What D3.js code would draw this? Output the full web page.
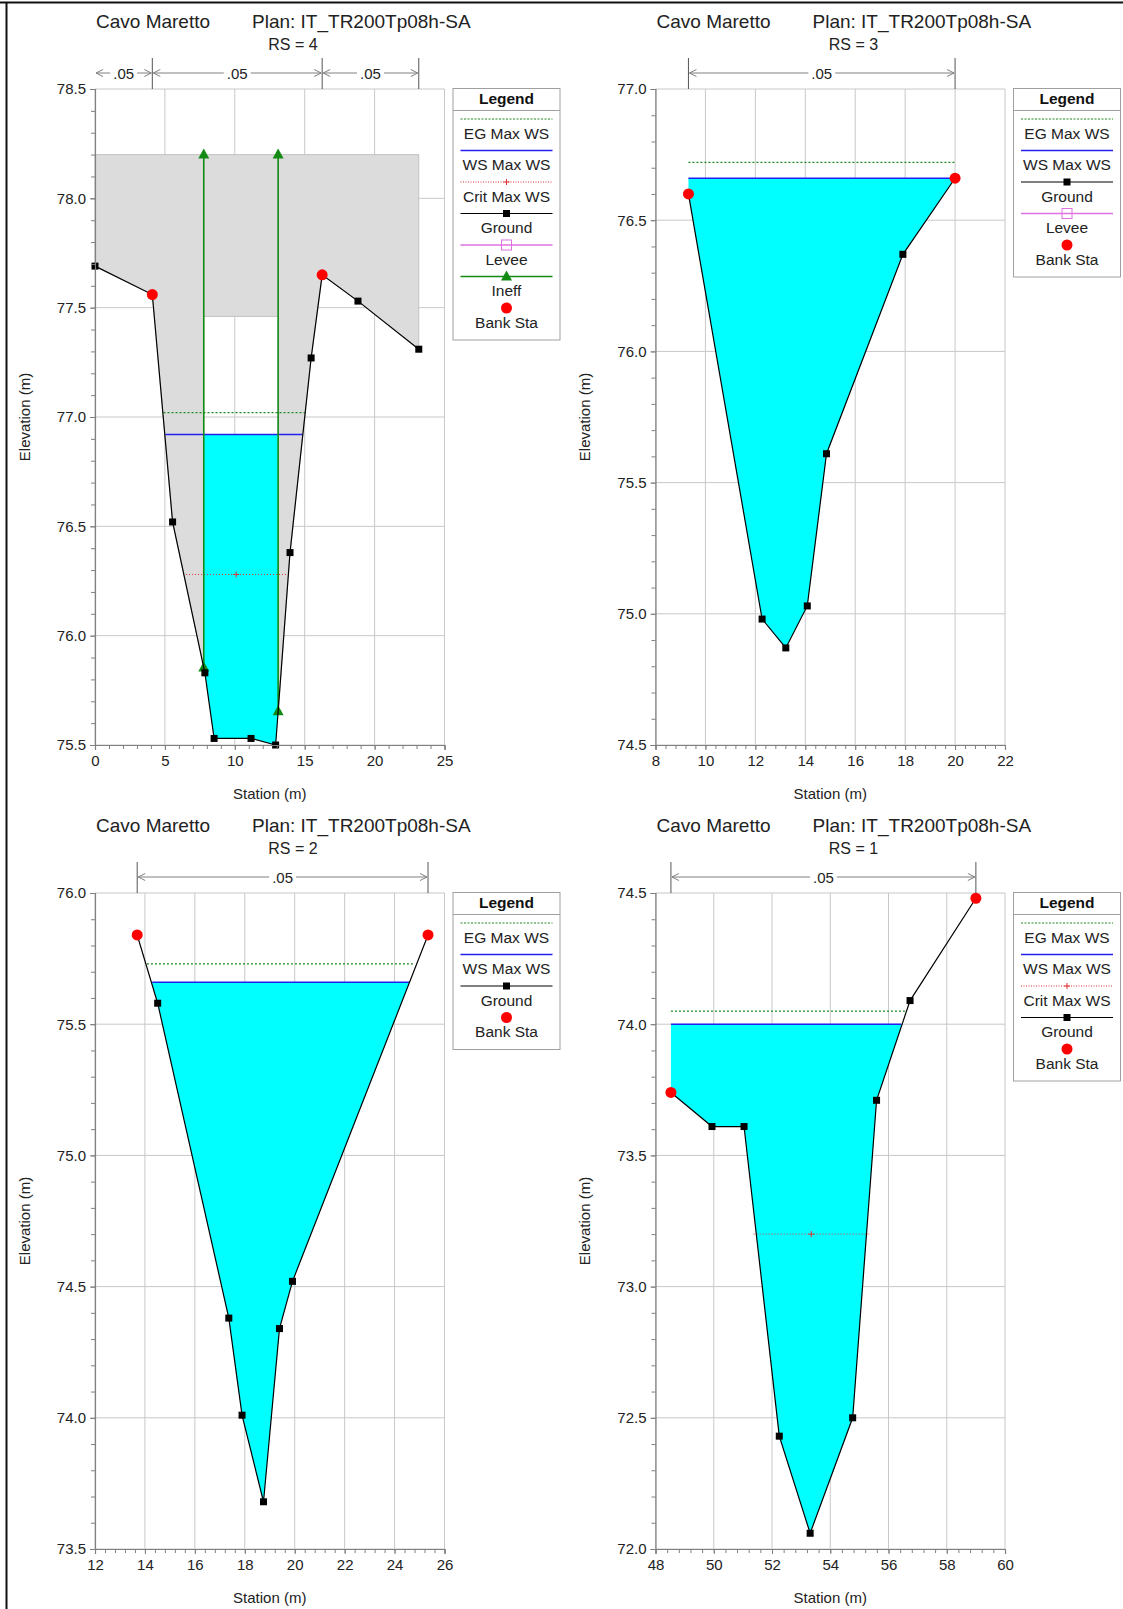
<!DOCTYPE html>
<html>
<head>
<meta charset="utf-8">
<script src="https://cdn.jsdelivr.net/npm/d3@7"></script>
<style>
  body { margin: 0; background: #fff; }
  svg { display: block; font-family: Arial, "Liberation Sans", sans-serif; }
</style>
</head>
<body>
<div id="chart"></div>
<script>
// Titles
const riverName = "Cavo Maretto";
const planName = "Plan: IT_TR200Tp08h-SA";
const sectionNames = ["RS = 4", "RS = 3", "RS = 2", "RS = 1"];

// Ground profiles (station m, elevation m)
const rs4Sta = [0, 4.1, 5.55, 7.86, 8.52, 11.16, 12.92, 13.95, 15.46, 16.25, 18.81, 23.16];
const rs4Elev = [77.69, 77.56, 76.52, 75.83, 75.53, 75.53, 75.50, 76.38, 77.27, 77.65, 77.53, 77.31];
const rs3Sta = [9.32, 12.27, 13.22, 14.08, 14.85, 17.91, 20.0];
const rs3Elev = [76.60, 74.98, 74.87, 75.03, 75.61, 76.37, 76.66];
const rs2Sta = [13.69, 14.51, 17.36, 17.89, 18.75, 19.39, 19.91, 25.34];
const rs2Elev = [75.84, 75.58, 74.38, 74.01, 73.68, 74.34, 74.52, 75.84];
const rs1Sta = [48.53, 49.94, 51.04, 52.25, 53.31, 54.77, 55.59, 56.74, 59.0];
const rs1Elev = [73.74, 73.61, 73.61, 72.43, 72.06, 72.50, 73.71, 74.09, 74.48];

// Bank stations
const bankSta = [[4.1, 16.25], [9.32, 20.0], [13.69, 25.34], [48.53, 59.0]];

// Water surface, energy grade, critical (RS 4, 3, 2, 1)
const wsElev = [76.92, 76.66, 75.66, 74.00];
const wsFrom = [5.04, 9.32, 14.29, 48.53];
const wsTo = [14.84, 20.0, 24.59, 56.44];
const egElev = [77.02, 76.72, 75.73, 74.05];
const egFrom = [4.9, 9.32, 14.08, 48.53];
const egTo = [15.02, 20.0, 24.81, 56.6];
const critElev = [76.28, null, null, 73.20];
const critFrom = [6.3, null, null, 51.37];
const critTo = [13.9, null, null, 55.33];
const waterFrom = [7.78, 9.32, 14.29, 48.53];
const waterTo = [13.10, 20.0, 24.59, 56.44];

// Ineffective flow areas at RS 4
const ineffSta = [7.78, 13.10];
const ineffTop = 78.2;
const blockedElev = 77.46;

// Manning's n
const nBreaks = [[0, 4.1, 16.25, 23.16], [9.32, 20.0], [13.69, 25.34], [48.53, 59.0]];
const nValues = [[".05", ".05", ".05"], [".05"], [".05"], [".05"]];

// Axes
const xDomains = [[0, 25], [8, 22], [12, 26], [48, 60]];
const yDomains = [[75.5, 78.5], [74.5, 77.0], [73.5, 76.0], [72.0, 74.5]];
const xSteps = [5, 2, 2, 2];
const ySteps = [0.5, 0.5, 0.5, 0.5];

// Legends
const legendItems = [
  ["EG Max WS", "WS Max WS", "Crit Max WS", "Ground", "Levee", "Ineff", "Bank Sta"],
  ["EG Max WS", "WS Max WS", "Ground", "Levee", "Bank Sta"],
  ["EG Max WS", "WS Max WS", "Ground", "Bank Sta"],
  ["EG Max WS", "WS Max WS", "Crit Max WS", "Ground", "Bank Sta"]
];

const stations = [rs4Sta, rs3Sta, rs2Sta, rs1Sta];
const elevations = [rs4Elev, rs3Elev, rs2Elev, rs1Elev];

// Layout
const W = 1123, H = 1609;
const plotW = 349.5, plotH = 656;
const panelPos = [
  { left: 95, top: 89 }, { left: 655.5, top: 89 },
  { left: 95, top: 893 }, { left: 655.5, top: 893 }
];

const colors = {
  grid: "#c8c8c8", axis: "#808080", text: "#222",
  water: "#00ffff", ws: "#2020f0", eg: "#1a8a1a", crit: "#e03030",
  ground: "#000", bank: "#ff0000", levee: "#e070e0", ineff: "#138a13",
  ineffFill: "#dcdcdc", nLine: "#808080"
};

const svg = d3.select("#chart").append("svg")
  .attr("width", W)
  .attr("height", H);

svg.append("rect").attr("width", W).attr("height", H).attr("fill", "#fff");

// outer frame
svg.append("line").attr("x1", 0).attr("x2", W).attr("y1", 2.5).attr("y2", 2.5)
  .attr("stroke", "#111").attr("stroke-width", 2);
svg.append("line").attr("x1", 6.5).attr("x2", 6.5).attr("y1", 2).attr("y2", H)
  .attr("stroke", "#111").attr("stroke-width", 2);

function groundAt(pts, s) {
  for (let k = 0; k < pts.length - 1; k++) {
    const [s0, e0] = pts[k], [s1, e1] = pts[k + 1];
    if (s >= s0 && s <= s1) return e0 + (e1 - e0) * (s - s0) / (s1 - s0);
  }
  return s < pts[0][0] ? pts[0][1] : pts[pts.length - 1][1];
}

function triangle(g, cx, cy, color) {
  g.append("path")
    .attr("d", `M${cx},${cy - 6}L${cx + 5.5},${cy + 4}L${cx - 5.5},${cy + 4}Z`)
    .attr("fill", color);
}

function plus(g, cx, cy, color) {
  g.append("path")
    .attr("d", `M${cx - 3},${cy}H${cx + 3}M${cx},${cy - 3}V${cy + 3}`)
    .attr("stroke", color).attr("stroke-width", 1);
}

function drawPanel(i) {
  const p = panelPos[i];
  const g = svg.append("g").attr("transform", `translate(${p.left},${p.top})`);
  const x = d3.scaleLinear().domain(xDomains[i]).range([0, plotW]);
  const y = d3.scaleLinear().domain(yDomains[i]).range([plotH, 0]);
  const ground = stations[i].map((s, k) => [s, elevations[i][k]]);
  const line = d3.line().x(d => x(d[0])).y(d => y(d[1]));

  const [x0, x1] = xDomains[i], [y0, y1] = yDomains[i];
  const xMajor = d3.range(x0, x1 + 1e-9, xSteps[i]);
  const xMinor = d3.range(x0, x1 + 1e-9, xSteps[i] / 5);
  const yMajor = d3.range(y0, y1 + 1e-9, ySteps[i]);
  const yMinor = d3.range(y0, y1 + 1e-9, ySteps[i] / 5);

  // Titles
  g.append("text").attr("x", 1).attr("y", -68).attr("dominant-baseline", "central")
    .attr("font-size", 19).attr("fill", colors.text).text(riverName);
  g.append("text").attr("x", 157).attr("y", -68).attr("dominant-baseline", "central")
    .attr("font-size", 19).attr("fill", colors.text).text(planName);
  g.append("text").attr("x", 198).attr("y", -45).attr("dominant-baseline", "central")
    .attr("text-anchor", "middle").attr("font-size", 16).attr("fill", colors.text)
    .text(sectionNames[i]);

  // Grid
  g.append("g").selectAll("line").data(xMajor).join("line")
    .attr("x1", d => x(d)).attr("x2", d => x(d)).attr("y1", 0).attr("y2", plotH)
    .attr("stroke", colors.grid);
  g.append("g").selectAll("line").data(yMajor).join("line")
    .attr("x1", 0).attr("x2", plotW).attr("y1", d => y(d)).attr("y2", d => y(d))
    .attr("stroke", colors.grid);

  // Ineffective areas (RS 4 only)
  if (i === 0) {
    const first = ground[0][0], last = ground[ground.length - 1][0];
    const right = ground.filter(d => d[0] > ineffSta[1]).reverse();
    const left = ground.filter(d => d[0] < ineffSta[0]).reverse();
    const greyPts = [[first, ineffTop], [last, ineffTop], ...right,
      [ineffSta[1], groundAt(ground, ineffSta[1])], [ineffSta[1], blockedElev],
      [ineffSta[0], blockedElev], [ineffSta[0], groundAt(ground, ineffSta[0])], ...left];
    g.append("path").attr("d", line(greyPts) + "Z")
      .attr("fill", colors.ineffFill).attr("stroke", "#b8b8b8").attr("stroke-width", 0.8);
  }

  // Water
  const wf = waterFrom[i], wt = waterTo[i], ws = wsElev[i];
  const inner = ground.filter(d => d[0] > wf && d[0] < wt).reverse();
  const waterPts = [[wf, ws], [wt, ws], [wt, groundAt(ground, wt)], ...inner, [wf, groundAt(ground, wf)]];
  g.append("path").attr("d", line(waterPts) + "Z").attr("fill", colors.water);

  // EG, WS, Crit
  g.append("path").attr("d", line([[egFrom[i], egElev[i]], [egTo[i], egElev[i]]]))
    .attr("stroke", colors.eg).attr("stroke-width", 1.2).attr("stroke-dasharray", "2,2");
  g.append("path").attr("d", line([[wsFrom[i], ws], [wsTo[i], ws]]))
    .attr("stroke", colors.ws).attr("stroke-width", 1.5);
  if (critElev[i] !== null) {
    g.append("path").attr("d", line([[critFrom[i], critElev[i]], [critTo[i], critElev[i]]]))
      .attr("stroke", colors.crit).attr("stroke-width", 1).attr("stroke-dasharray", "1,2");
    plus(g, x((critFrom[i] + critTo[i]) / 2), y(critElev[i]), colors.crit);
  }

  // Ineffective flow lines
  if (i === 0) {
    ineffSta.forEach(s => {
      const gb = groundAt(ground, s);
      g.append("path").attr("d", line([[s, gb], [s, ineffTop]]))
        .attr("stroke", colors.ineff).attr("stroke-width", 1.6);
      triangle(g, x(s), y(ineffTop), colors.ineff);
      triangle(g, x(s), y(gb), colors.ineff);
    });
  }

  // Ground
  g.append("path").attr("d", line(ground))
    .attr("fill", "none").attr("stroke", colors.ground).attr("stroke-width", 1.2);
  g.append("g").selectAll("rect").data(ground).join("rect")
    .attr("x", d => x(d[0]) - 3.5).attr("y", d => y(d[1]) - 3.5)
    .attr("width", 7).attr("height", 7).attr("fill", colors.ground);

  // Bank stations
  g.append("g").selectAll("circle").data(bankSta[i]).join("circle")
    .attr("cx", d => x(d)).attr("cy", d => y(groundAt(ground, d)))
    .attr("r", 5.5).attr("fill", colors.bank);

  // Axes
  const xAxis = g.append("g").attr("transform", `translate(0,${plotH})`)
    .call(d3.axisBottom(x).tickValues(xMajor).tickSize(5).tickPadding(5).tickFormat(d3.format("d")));
  g.append("g").attr("transform", `translate(0,${plotH})`)
    .call(d3.axisBottom(x).tickValues(xMinor).tickSize(4).tickFormat(""))
    .call(a => a.select(".domain").remove());
  const yAxis = g.append("g")
    .call(d3.axisLeft(y).tickValues(yMajor).tickSize(5).tickPadding(4).tickFormat(d3.format(".1f")));
  g.append("g")
    .call(d3.axisLeft(y).tickValues(yMinor).tickSize(4).tickFormat(""))
    .call(a => a.select(".domain").remove());
  g.selectAll(".domain").attr("stroke", colors.axis).attr("stroke-width", 1.2);
  g.selectAll(".tick line").attr("stroke", colors.axis);
  [xAxis, yAxis].forEach(a => a.selectAll("text")
    .attr("font-size", 15).attr("fill", colors.text)
    .attr("font-family", 'Arial, "Liberation Sans", sans-serif'));

  // Axis titles
  g.append("text").attr("x", plotW / 2).attr("y", plotH + 48)
    .attr("text-anchor", "middle").attr("dominant-baseline", "central")
    .attr("font-size", 15).attr("fill", colors.text).text("Station (m)");
  g.append("text").attr("transform", `translate(-71,${plotH / 2}) rotate(-90)`)
    .attr("text-anchor", "middle").attr("dominant-baseline", "central")
    .attr("font-size", 15).attr("fill", colors.text).text("Elevation (m)");

  // Manning's n annotation
  const nb = nBreaks[i], ny = -16;
  nb.forEach(s => {
    if (s === x0) return;
    g.append("line").attr("x1", x(s)).attr("x2", x(s)).attr("y1", -31).attr("y2", 0)
      .attr("stroke", "#555").attr("stroke-width", 1);
  });
  nValues[i].forEach((v, k) => {
    const a = x(nb[k]), b = x(nb[k + 1]), m = (a + b) / 2;
    const t = g.append("text").attr("x", m).attr("y", ny).attr("text-anchor", "middle")
      .attr("dominant-baseline", "central").attr("font-size", 15).attr("fill", colors.text).text(v);
    const hw = t.node().getComputedTextLength() / 2 + 3;
    g.append("path")
      .attr("d", `M${a + 1},${ny}H${m - hw}M${m + hw},${ny}H${b - 1}` +
        `M${a + 8},${ny - 3.5}L${a + 1},${ny}L${a + 8},${ny + 3.5}` +
        `M${b - 8},${ny - 3.5}L${b - 1},${ny}L${b - 8},${ny + 3.5}`)
      .attr("fill", "none").attr("stroke", colors.nLine).attr("stroke-width", 1);
  });

  // Legend
  const lx = plotW + 8, lw = 107, items = legendItems[i];
  const lh = 22 + items.length * 31.5 + 9;
  const lg = g.append("g").attr("transform", `translate(${lx},0)`);
  lg.append("rect").attr("x", 0.5).attr("y", -0.5).attr("width", lw).attr("height", lh)
    .attr("fill", "#fff").attr("stroke", "#a0a0a0");
  lg.append("line").attr("x1", 0.5).attr("x2", lw + 0.5).attr("y1", 21.5).attr("y2", 21.5)
    .attr("stroke", "#a0a0a0");
  lg.append("text").attr("x", lw / 2 + 0.5).attr("y", 9).attr("text-anchor", "middle")
    .attr("dominant-baseline", "central").attr("font-size", 15.5).attr("font-weight", "bold")
    .attr("fill", "#111").text("Legend");
  const cx = lw / 2 + 0.5;
  items.forEach((name, k) => {
    const ly = 30 + k * 31.5;
    const seg = s => lg.append("line").attr("x1", 8).attr("x2", lw - 7).attr("y1", ly).attr("y2", ly)
      .attr("stroke", s);
    if (name === "EG Max WS") seg(colors.eg).attr("stroke-dasharray", "2,1.5");
    else if (name === "WS Max WS") seg(colors.ws).attr("stroke-width", 1.5);
    else if (name === "Crit Max WS") { seg(colors.crit).attr("stroke-dasharray", "1,1.5"); plus(lg, cx, ly, colors.crit); }
    else if (name === "Ground") {
      seg("#000").attr("stroke-width", 1.2);
      lg.append("rect").attr("x", cx - 3.5).attr("y", ly - 3.5).attr("width", 7).attr("height", 7).attr("fill", "#000");
    } else if (name === "Levee") {
      seg(colors.levee).attr("stroke-width", 1.5);
      lg.append("rect").attr("x", cx - 5).attr("y", ly - 5).attr("width", 10).attr("height", 10)
        .attr("fill", "none").attr("stroke", colors.levee);
    } else if (name === "Ineff") {
      seg(colors.ineff).attr("stroke-width", 1.5);
      triangle(lg, cx, ly, colors.ineff);
    } else if (name === "Bank Sta") {
      lg.append("circle").attr("cx", cx).attr("cy", ly).attr("r", 5.5).attr("fill", colors.bank);
    }
    lg.append("text").attr("x", cx).attr("y", ly + 14).attr("text-anchor", "middle")
      .attr("dominant-baseline", "central").attr("font-size", 15.5).attr("fill", colors.text).text(name);
  });
}

[0, 1, 2, 3].forEach(drawPanel);
</script>
</body>
</html>
